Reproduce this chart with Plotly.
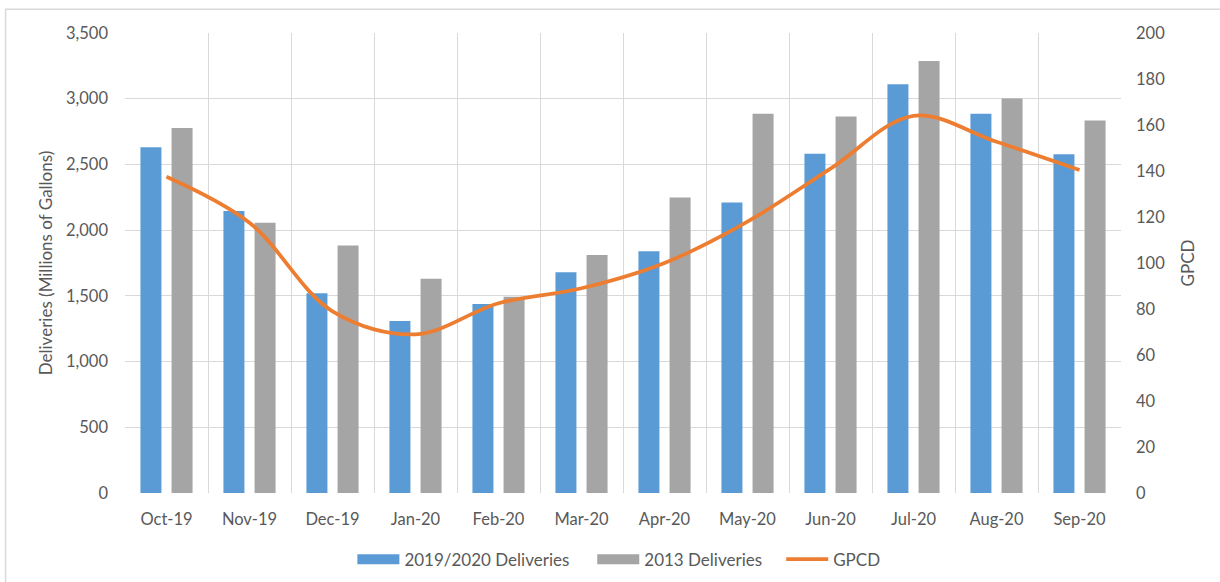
import plotly.graph_objects as go

months = ["Oct-19", "Nov-19", "Dec-19", "Jan-20", "Feb-20", "Mar-20",
          "Apr-20", "May-20", "Jun-20", "Jul-20", "Aug-20", "Sep-20"]
deliveries_2019_2020 = [2630, 2145, 1520, 1309, 1438, 1679, 1839, 2211, 2581, 3110, 2885, 2578]
deliveries_2013 = [2778, 2056, 1884, 1631, 1494, 1811, 2249, 2885, 2865, 3287, 3001, 2834]
gpcd = [137.5, 117.5, 79, 69, 82.5, 89, 100, 118, 141, 164, 152.7, 140.4]

W, H = 1220, 582
L, R, T, B = 124.5, 1121, 32.7, 493.3

font_family = "Lato"
text_color = "#595959"
grid_color = "#D9D9D9"
blue, gray, orange = "#5B9BD5", "#A5A5A5", "#ED7D31"

fig = go.Figure()
fig.add_trace(go.Bar(x=months, y=deliveries_2019_2020, name="2019/2020 Deliveries",
                     marker=dict(color=blue, line=dict(width=0)), showlegend=False))
fig.add_trace(go.Bar(x=months, y=deliveries_2013, name="2013 Deliveries",
                     marker=dict(color=gray, line=dict(width=0)), showlegend=False))
fig.add_trace(go.Scatter(x=months, y=gpcd, name="GPCD", yaxis="y2", mode="lines",
                         showlegend=False,
                         line=dict(color=orange, width=3.75, shape="spline", smoothing=1.0)))
# legend entries (wide swatches like the original)
fig.add_trace(go.Scatter(x=[None], y=[None], name="2019/2020 Deliveries", mode="lines",
                         line=dict(color=blue, width=10), legend="legend"))
fig.add_trace(go.Scatter(x=[None], y=[None], name="2013 Deliveries", mode="lines",
                         line=dict(color=gray, width=10), legend="legend2"))
fig.add_trace(go.Scatter(x=[None], y=[None], name="GPCD", mode="lines", yaxis="y2",
                         line=dict(color=orange, width=3.75), legend="legend3"))

def px_to_paper_x(px):
    return (px - L) / (R - L)

def px_to_paper_y(py):
    return (B - py) / (B - T)

def legend_at(px):
    return dict(orientation="h", x=px_to_paper_x(px), xanchor="left",
                y=px_to_paper_y(560), yanchor="middle",
                font=dict(size=17, color=text_color), itemwidth=42,
                bgcolor="rgba(0,0,0,0)")

fig.update_layout(
    width=W, height=H,
    margin=dict(l=L, r=W - R, t=T, b=H - B, autoexpand=False),
    paper_bgcolor="white", plot_bgcolor="white",
    font=dict(family=font_family, size=16, color=text_color),
    barmode="group", bargap=0.25, bargroupgap=0.325,
    showlegend=True,
    legend=legend_at(359 - 7),
    legend2=legend_at(598 - 6),
    legend3=legend_at(790 - 9),
    xaxis=dict(type="category", tickson="boundaries", showgrid=True, gridcolor=grid_color,
               gridwidth=1.3, ticks="", showline=False, zeroline=False,
               tickfont=dict(size=16.5, color=text_color), ticklabelstandoff=14),
    yaxis=dict(range=[0, 3500], dtick=500, tickformat=",d", showgrid=True,
               gridcolor=grid_color, gridwidth=1.3, zeroline=False, showline=False,
               ticks="", tickfont=dict(size=16.5, color=text_color), ticklabelstandoff=16,
               title=dict(text="Deliveries (Millions of Gallons)", font=dict(size=17, color=text_color),
                          standoff=9)),
    yaxis2=dict(range=[0, 200], dtick=20, overlaying="y", side="right", showgrid=False,
                zeroline=False, showline=False, ticks="",
                tickfont=dict(size=16.5, color=text_color), ticklabelstandoff=14,
                title=dict(text="GPCD", font=dict(size=17, color=text_color), standoff=17)),
    shapes=[dict(type="rect", xref="paper", yref="paper",
                 x0=px_to_paper_x(5), x1=px_to_paper_x(1240),
                 y0=px_to_paper_y(600), y1=px_to_paper_y(9),
                 line=dict(color="#D9D9D9", width=1.5), fillcolor="rgba(0,0,0,0)", layer="below")],
)

fig.write_html("out.html", config={"displayModeBar": False},
               post_script="document.body.style.margin='0px';document.body.style.overflow='hidden';")
